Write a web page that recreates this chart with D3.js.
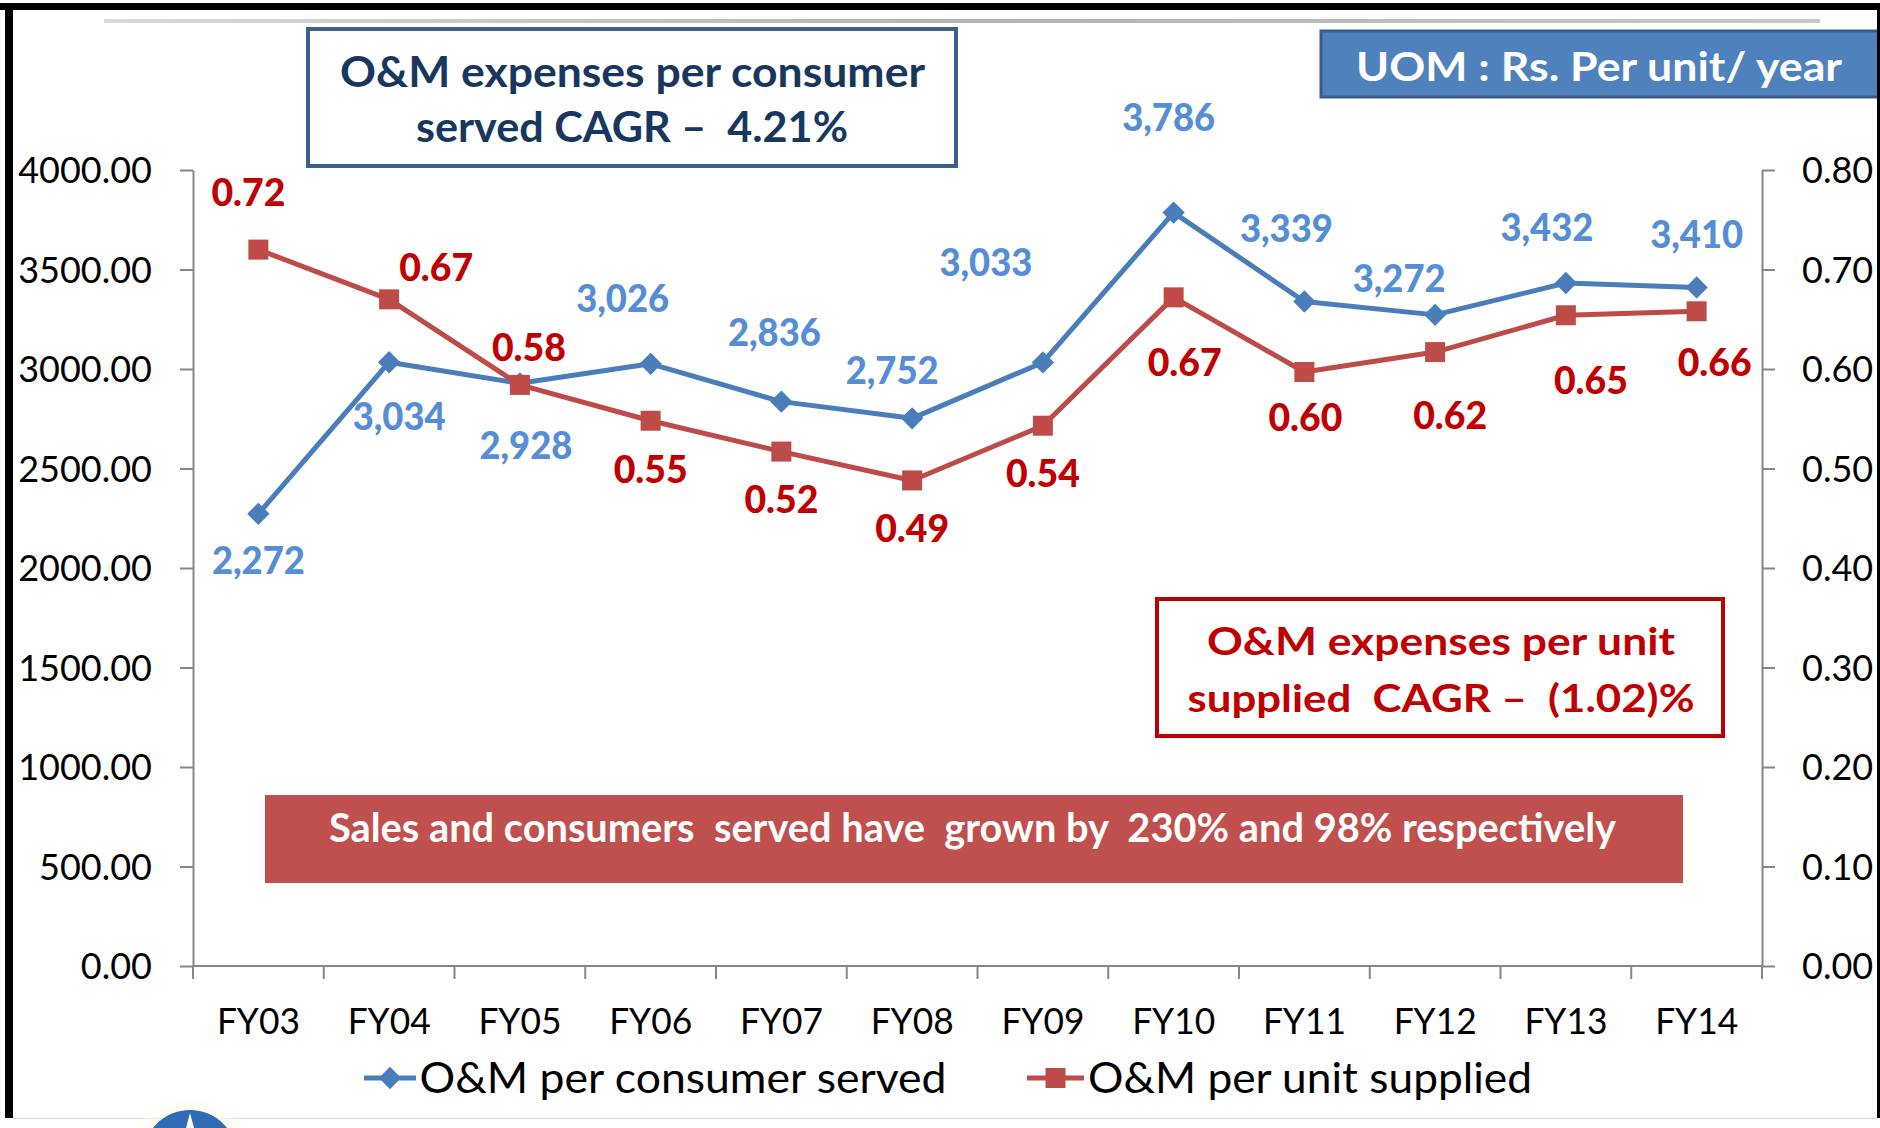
<!DOCTYPE html>
<html>
<head>
<meta charset="utf-8">
<script src="https://cdn.jsdelivr.net/npm/d3@7"></script>
<style>
  html, body { margin: 0; padding: 0; background: #ffffff; }
  svg { display: block; }
  text { font-family: Lato, "Noto Sans", sans-serif; }
</style>
</head>
<body>
<svg id="chart" width="1880" height="1128"></svg>
<script>
// ---------------- data ----------------
const categories = ["FY03","FY04","FY05","FY06","FY07","FY08","FY09","FY10","FY11","FY12","FY13","FY14"];
const perConsumer = [2272, 3034, 2928, 3026, 2836, 2752, 3033, 3786, 3339, 3272, 3432, 3410];
const perUnit = [0.72, 0.67, 0.584, 0.548, 0.517, 0.488, 0.543, 0.672, 0.597, 0.617, 0.654, 0.658];
const leftTicks = [0, 500, 1000, 1500, 2000, 2500, 3000, 3500, 4000];
const rightTicks = [0, 0.1, 0.2, 0.3, 0.4, 0.5, 0.6, 0.7, 0.8];
const seriesNames = ["O&M per consumer served", "O&M per unit supplied"];
const titleLines = ["O&M expenses per consumer", "served CAGR \u2013  4.21%"];
const unitLines = ["O&M expenses per unit", "supplied  CAGR \u2013  (1.02)%"];
const uomText = "UOM : Rs. Per unit/ year";
const bannerText = "Sales and consumers  served have  grown by  230% and 98% respectively";

// label placement offsets (layout, relative to each point)
const blueLabelOffsets = [[0,47],[10,54],[6,62],[-28,-65],[-7,-69],[-20,-48],[-57,-100],[-5,-95],[-18,-73],[-36,-36],[-19,-55],[0,-53]];
const redLabelOffsets  = [[-10,-57],[47,-32],[9,-37],[0,49],[0,48],[0,48],[0,48],[11,65],[1,46],[15,64],[25,65],[18,51]];

// ---------------- setup ----------------
const svg = d3.select("#chart");
const BLUE = "#4A7EBB", RED = "#BE4B48", BLUE_LBL = "#558ED5", RED_LBL = "#C00000", AXIS = "#868686";

const x = d3.scaleBand().domain(categories).range([193, 1762]).paddingInner(0).paddingOuter(0);
const yL = d3.scaleLinear().domain([0, 4000]).range([966, 170]);
const yR = d3.scaleLinear().domain([0, 0.8]).range([966, 170]);
const cx = c => x(c) + x.bandwidth() / 2;

// ---------------- frame ----------------
svg.append("rect").attr("x", 0).attr("y", 3).attr("width", 1880).attr("height", 7).attr("fill", "#000");
svg.append("rect").attr("x", 5).attr("y", 3).attr("width", 8).attr("height", 1115).attr("fill", "#000");
svg.append("line").attr("x1", 13).attr("x2", 1877).attr("y1", 1118.5).attr("y2", 1118.5).attr("stroke", "#d9d9d9").attr("stroke-width", 1.5);

const defs = svg.append("defs");
const grad = defs.append("linearGradient").attr("id", "topline").attr("x1", "0").attr("x2", "1");
grad.append("stop").attr("offset", "0").attr("stop-color", "#d9d9d9");
grad.append("stop").attr("offset", "0.5").attr("stop-color", "#b3b3b3");
grad.append("stop").attr("offset", "1").attr("stop-color", "#c8c8c8");
svg.append("rect").attr("x", 104).attr("y", 19).attr("width", 1716).attr("height", 4).attr("fill", "url(#topline)");

// logo fragment bottom-left
const halo = defs.append("radialGradient").attr("id", "halo");
halo.append("stop").attr("offset", "0.6").attr("stop-color", "#fff6d8");
halo.append("stop").attr("offset", "1").attr("stop-color", "#ffffff").attr("stop-opacity", 0);
svg.append("circle").attr("cx", 190).attr("cy", 1160).attr("r", 70).attr("fill", "url(#halo)");
svg.append("circle").attr("cx", 190).attr("cy", 1157).attr("r", 47).attr("fill", "#2F6CB3");
svg.append("path").attr("d", "M186,1128 L190,1113 L194,1128 Z").attr("fill", "#ffffff");

// ---------------- axes ----------------
const axL = svg.append("g").attr("transform", "translate(193,0)")
  .call(d3.axisLeft(yL).tickValues(leftTicks).tickFormat(d3.format(".2f")).tickSize(13).tickSizeOuter(0).tickPadding(28));
const axR = svg.append("g").attr("transform", "translate(1762,0)")
  .call(d3.axisRight(yR).tickValues(rightTicks).tickFormat(d3.format(".2f")).tickSize(13).tickSizeOuter(0).tickPadding(27));
[axL, axR].forEach(a => {
  a.select(".domain").attr("stroke", AXIS).attr("stroke-width", 2);
  a.selectAll(".tick line").attr("stroke", AXIS).attr("stroke-width", 2);
  a.selectAll(".tick text").attr("fill", "#000").attr("font-size", 36).attr("font-family", "Lato").attr("dy", "0.36em");
});

// x axis
svg.append("line").attr("x1", 193).attr("x2", 1762).attr("y1", 966).attr("y2", 966).attr("stroke", AXIS).attr("stroke-width", 2);
const bounds = categories.map(c => x(c)).concat([x.range()[1]]);
svg.append("g").selectAll("line").data(bounds).join("line")
  .attr("x1", d => d).attr("x2", d => d).attr("y1", 966).attr("y2", 979)
  .attr("stroke", AXIS).attr("stroke-width", 2);
svg.append("g").selectAll("text").data(categories).join("text")
  .attr("x", d => cx(d)).attr("y", 1034).attr("text-anchor", "middle")
  .attr("font-size", 37).attr("fill", "#000")
  .attr("textLength", 83).attr("lengthAdjust", "spacingAndGlyphs").text(d => d);

// ---------------- annotation boxes ----------------
function boxText(txt, x0, y0, size, color, len) {
  svg.append("text").attr("x", x0).attr("y", y0).attr("text-anchor", "middle")
    .attr("font-size", size).attr("font-weight", 700).attr("fill", color)
    .style("white-space", "pre").attr("textLength", len).attr("lengthAdjust", "spacingAndGlyphs").text(txt);
}

svg.append("rect").attr("x", 265).attr("y", 795).attr("width", 1418).attr("height", 88).attr("fill", "#C0504D");
boxText(bannerText, 972.5, 842, 41, "#fff", 1287);

svg.append("rect").attr("x", 1157).attr("y", 599).attr("width", 566).attr("height", 137).attr("fill", "#fff").attr("stroke", "#C00000").attr("stroke-width", 4);
boxText(unitLines[0], 1441, 655, 38, "#C00000", 468);
boxText(unitLines[1], 1441, 712, 38, "#C00000", 507);

svg.append("rect").attr("x", 308).attr("y", 29).attr("width", 648).attr("height", 137).attr("fill", "#fff").attr("stroke", "#3C5F8C").attr("stroke-width", 4);
boxText(titleLines[0], 632.5, 87, 42, "#17375E", 585);
boxText(titleLines[1], 632, 142, 42, "#17375E", 432);

svg.append("rect").attr("x", 1321).attr("y", 31).attr("width", 570).attr("height", 66).attr("fill", "#4F81BD").attr("stroke", "#385D8A").attr("stroke-width", 3);
boxText(uomText, 1599, 81, 41, "#fff", 486);
svg.append("rect").attr("x", 1877).attr("y", 3).attr("width", 3).attr("height", 1115).attr("fill", "#000");

// ---------------- series ----------------
const diamond = d3.symbol(d3.symbolSquare, 250);
const square = d3.symbol(d3.symbolSquare, 400);

const blueLine = d3.line().x((d, i) => cx(categories[i])).y(d => yL(d));
svg.append("path").datum(perConsumer).attr("d", blueLine).attr("fill", "none").attr("stroke", BLUE).attr("stroke-width", 5).attr("stroke-linejoin", "round");
svg.append("g").selectAll("path").data(perConsumer).join("path")
  .attr("d", diamond)
  .attr("transform", (d, i) => `translate(${cx(categories[i])},${yL(d)}) rotate(45)`)
  .attr("fill", BLUE);

const redLine = d3.line().x((d, i) => cx(categories[i])).y(d => yR(d));
svg.append("path").datum(perUnit).attr("d", redLine).attr("fill", "none").attr("stroke", RED).attr("stroke-width", 5).attr("stroke-linejoin", "round");
svg.append("g").selectAll("path").data(perUnit).join("path")
  .attr("d", square)
  .attr("transform", (d, i) => `translate(${cx(categories[i])},${yR(d)})`)
  .attr("fill", RED);

// data labels
const fmtC = d3.format(",.0f"), fmtU = d3.format(".2f");
svg.append("g").selectAll("text").data(perConsumer).join("text")
  .attr("x", (d, i) => cx(categories[i]) + blueLabelOffsets[i][0])
  .attr("y", (d, i) => yL(d) + blueLabelOffsets[i][1])
  .attr("dy", "0.36em").attr("text-anchor", "middle")
  .attr("font-size", 37).attr("font-weight", 900).attr("fill", BLUE_LBL)
  .attr("textLength", 93).attr("lengthAdjust", "spacingAndGlyphs")
  .text(d => fmtC(d));
svg.append("g").selectAll("text").data(perUnit).join("text")
  .attr("x", (d, i) => cx(categories[i]) + redLabelOffsets[i][0])
  .attr("y", (d, i) => yR(d) + redLabelOffsets[i][1])
  .attr("dy", "0.36em").attr("text-anchor", "middle")
  .attr("font-size", 37).attr("font-weight", 900).attr("fill", RED_LBL)
  .attr("textLength", 74).attr("lengthAdjust", "spacingAndGlyphs")
  .text(d => fmtU(d));

// ---------------- legend ----------------
const lg = svg.append("g");
lg.append("line").attr("x1", 364).attr("x2", 416).attr("y1", 1078).attr("y2", 1078).attr("stroke", BLUE).attr("stroke-width", 5);
lg.append("path").attr("d", diamond).attr("transform", "translate(390,1078) rotate(45)").attr("fill", BLUE);
lg.append("text").attr("x", 419.5).attr("y", 1093).attr("font-size", 42).attr("fill", "#000")
  .attr("textLength", 527).attr("lengthAdjust", "spacingAndGlyphs").text(seriesNames[0]);
lg.append("line").attr("x1", 1027).attr("x2", 1084).attr("y1", 1078).attr("y2", 1078).attr("stroke", RED).attr("stroke-width", 5);
lg.append("path").attr("d", square).attr("transform", "translate(1055.5,1078)").attr("fill", RED);
lg.append("text").attr("x", 1088).attr("y", 1093).attr("font-size", 42).attr("fill", "#000")
  .attr("textLength", 444).attr("lengthAdjust", "spacingAndGlyphs").text(seriesNames[1]);
</script>
</body>
</html>
